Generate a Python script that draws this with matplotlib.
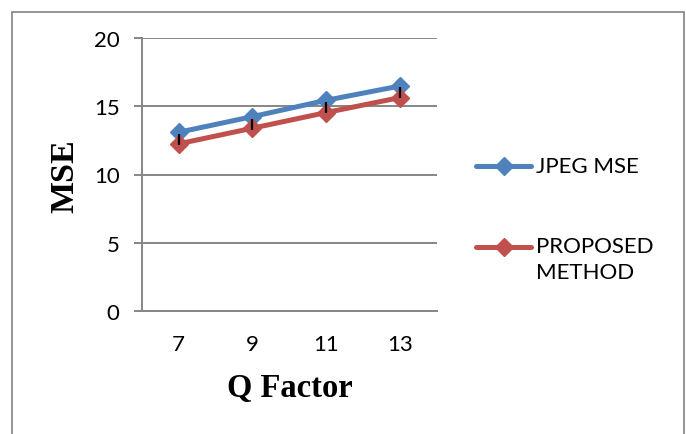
import matplotlib
matplotlib.use("Agg")
import matplotlib.pyplot as plt
from matplotlib.lines import Line2D
from matplotlib.patches import Rectangle

categories = ["7", "9", "11", "13"]
jpeg_mse = [13.1, 14.25, 15.45, 16.5]
proposed = [12.25, 13.4, 14.55, 15.65]
err_low = [0.1, 0.1, 0.05, 0.05]
err_high = [0.7, 0.7, 0.75, 0.75]
yticks = [0, 5, 10, 15, 20]
series_names = ["JPEG MSE", "PROPOSED\nMETHOD"]

W, H = 686, 435
BLUE = "#4F81BD"
RED = "#C0504D"
GRID = "#868686"
TICKFONT = "Lato"
FS = 16

fig = plt.figure(figsize=(W / 100, H / 100), dpi=100)
fig.patch.set_facecolor("white")

def fx(px):
    return px / W

def fy(py):
    return 1 - py / H

# outer border
fig.patches.append(Rectangle((fx(12), fy(445)), fx(684) - fx(12), fy(13) - fy(445),
                             transform=fig.transFigure, fill=False,
                             edgecolor="#8c8c8c", linewidth=1.3, zorder=0))

ax = fig.add_axes([fx(141.7), fy(311.7), fx(437) - fx(141.7), fy(39.3) - fy(311.7)])
x = list(range(len(categories)))

ax.plot(x, jpeg_mse, color=BLUE, lw=3.6, marker="D", markersize=9.5,
        solid_capstyle="round", zorder=3, clip_on=False)
ax.plot(x, proposed, color=RED, lw=3.6, marker="D", markersize=9.5,
        solid_capstyle="round", zorder=4, clip_on=False)
ax.errorbar(x, proposed, yerr=[err_low, err_high], fmt="none", ecolor="black",
            elinewidth=1.6, capsize=0, zorder=5)

ax.set_xlim(-0.5, len(categories) - 0.5)
ax.set_ylim(0, 20)
ax.set_yticks(yticks)
ax.set_xticks(x)
ax.set_xticklabels(categories, fontfamily=TICKFONT, fontsize=FS)
ax.set_yticklabels([str(v) for v in yticks], fontfamily=TICKFONT, fontsize=FS)

ax.yaxis.grid(True, color=GRID, lw=1.4)
ax.set_axisbelow(True)
for s in ["top", "right"]:
    ax.spines[s].set_visible(False)
ax.spines["left"].set_color(GRID)
ax.spines["left"].set_linewidth(1.4)
ax.spines["bottom"].set_color(GRID)
ax.spines["bottom"].set_linewidth(1.4)
ax.tick_params(axis="y", length=6, width=1.4, color=GRID, pad=10)
ax.tick_params(axis="x", length=0, pad=17)

fig.text(fx(65), fy(176), "MSE", rotation=90, ha="center", va="center",
         fontfamily="Liberation Serif", fontweight="bold", fontsize=24.5)
fig.text(fx(290), fy(388), "Q Factor", ha="center", va="center",
         fontfamily="Liberation Serif", fontweight="bold", fontsize=23.5)

# legend (manual)
for color, ypix in [(BLUE, 167), (RED, 248)]:
    fig.lines.append(Line2D([fx(476), fx(531)], [fy(ypix), fy(ypix)], color=color,
                            lw=3.6, solid_capstyle="round", transform=fig.transFigure))
    fig.lines.append(Line2D([fx(503.5)], [fy(ypix)], color=color, marker="D",
                            markersize=9.5, transform=fig.transFigure))
fig.text(fx(536), fy(167), series_names[0], ha="left", va="center",
         fontfamily=TICKFONT, fontsize=FS)
fig.text(fx(536), fy(237), series_names[1], ha="left", va="top",
         fontfamily=TICKFONT, fontsize=FS, linespacing=1.38)

fig.savefig("out.png", dpi=100)
